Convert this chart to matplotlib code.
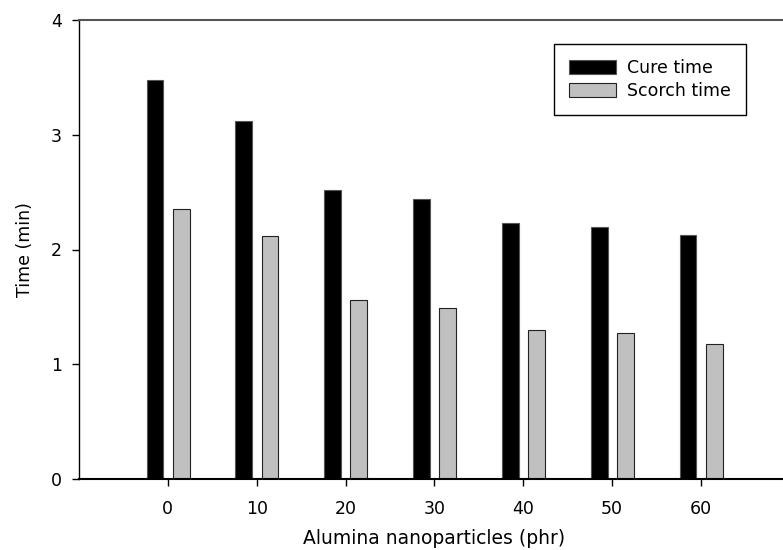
import matplotlib
matplotlib.use("Agg")
import matplotlib.pyplot as plt
import numpy as np

plt.rcParams['font.family'] = ['DejaVu Sans']

loadings = [0, 10, 20, 30, 40, 50, 60]
cure_time = [3.48, 3.12, 2.52, 2.44, 2.23, 2.20, 2.13]
scorch_time = [2.35, 2.12, 1.56, 1.49, 1.30, 1.27, 1.18]
xticks = [0, 10, 20, 30, 40, 50, 60]
yticks = [0, 1, 2, 3, 4]

W, H = 783, 550
fig = plt.figure(figsize=(W / 100, H / 100), dpi=100)
left_px, right_px, top_px, bottom_px = 79, 789.7, 20, 479
ax = fig.add_axes([left_px / W, 1 - bottom_px / H,
                   (right_px - left_px) / W, (bottom_px - top_px) / H])

x = np.array(loadings, dtype=float)
bw = 1.9
ax.bar(x - 1.45, cure_time, width=bw, color='black', edgecolor='#555555',
       linewidth=0.8, label='Cure time', zorder=2)
ax.bar(x + 1.5, scorch_time, width=bw, color='#c0c0c0', edgecolor='#222222',
       linewidth=0.8, label='Scorch time', zorder=2)

ax.set_xlim(-10, 70)
ax.set_ylim(0, 4)
ax.set_xticks(xticks)
ax.set_yticks(yticks)
ax.tick_params(axis='both', direction='out', length=5, width=1, labelsize=12.5,
               colors='black')
ax.tick_params(axis='x', pad=10)
ax.tick_params(axis='y', pad=7.5)

ax.spines['right'].set_visible(False)
ax.spines['top'].set_color('#555555')
ax.spines['top'].set_linewidth(1.5)
ax.spines['left'].set_linewidth(1)
ax.spines['bottom'].set_linewidth(1.5)

ax.set_xlabel('Alumina nanoparticles (phr)', fontsize=13.5)
ax.xaxis.set_label_coords(0.5, -0.11)
ax.set_ylabel('Time (min)', fontsize=12.5)
ax.yaxis.set_label_coords(-0.064, 0.5)

leg = ax.legend(loc='upper left', bbox_to_anchor=(554 / W, 1 - 44 / H),
                bbox_transform=fig.transFigure, borderaxespad=0,
                fontsize=12.5, frameon=True, fancybox=False, framealpha=1,
                edgecolor='black', handlelength=2.7, handleheight=0.85,
                handletextpad=0.65, borderpad=0.85, labelspacing=0.3)
leg.get_frame().set_linewidth(1)

fig.savefig('out.png', dpi=100)
